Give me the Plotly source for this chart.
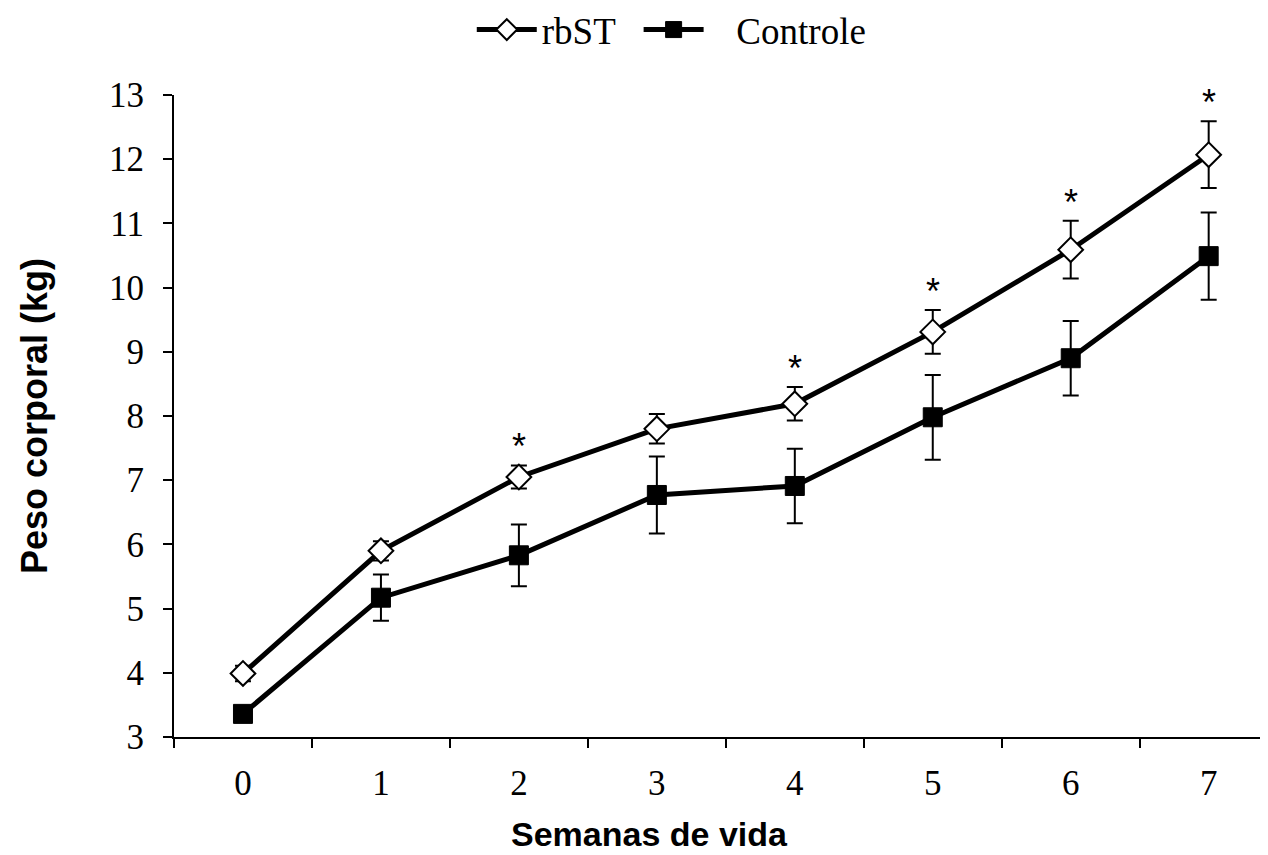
import plotly.graph_objects as go

semanas = [0, 1, 2, 3, 4, 5, 6, 7]
rbst = [3.99, 5.90, 7.05, 7.80, 8.19, 9.31, 10.59, 12.07]
rbst_err = [0.12, 0.15, 0.18, 0.23, 0.26, 0.34, 0.45, 0.52]
controle = [3.36, 5.17, 5.83, 6.77, 6.91, 7.98, 8.90, 10.49]
controle_err = [0.06, 0.36, 0.48, 0.60, 0.58, 0.66, 0.58, 0.68]
signif = [False, False, True, False, True, True, True, True]

fig = go.Figure()
fig.add_trace(go.Scatter(
    x=semanas, y=rbst, name="rbST  ", mode="lines+markers",
    line=dict(color="black", width=5),
    marker=dict(symbol="diamond", size=19, color="white", line=dict(color="black", width=2)),
    error_y=dict(type="data", array=rbst_err, color="black", thickness=2, width=8),
))
fig.add_trace(go.Scatter(
    x=semanas, y=controle, name="   Controle", mode="lines+markers",
    line=dict(color="black", width=5),
    marker=dict(symbol="square", size=19, color="black", line=dict(color="black", width=1)),
    error_y=dict(type="data", array=controle_err, color="black", thickness=2, width=8),
))

for x, y, e, s in zip(semanas, rbst, rbst_err, signif):
    if s:
        fig.add_annotation(x=x, y=y + e, text="*", showarrow=False, yanchor="bottom", yshift=-4,
                           font=dict(family="Liberation Sans, Arial", size=36, color="black"))

fig.add_annotation(x=0.435, y=-0.151, xref="paper", yref="paper", text="<b>Semanas de vida</b>",
                   showarrow=False, xanchor="center", yanchor="middle",
                   font=dict(family="Liberation Sans, Arial", size=34, color="black"))

fig.update_layout(
    width=1260, height=847,
    paper_bgcolor="white", plot_bgcolor="white",
    margin=dict(l=166, r=0, t=87, b=118, autoexpand=False),
    showlegend=True,
    legend=dict(orientation="h", x=0.455, y=0.974, xanchor="center", yanchor="middle", yref="container",
                font=dict(family="Liberation Serif, Times New Roman", size=37, color="black"),
                itemwidth=60, bgcolor="rgba(0,0,0,0)"),
    xaxis=dict(
        range=[-0.5, 7.43], tickvals=semanas, ticktext=[str(s) for s in semanas],
        ticks="outside", ticklen=0, showgrid=False, zeroline=False,
        showline=True, linecolor="black", linewidth=2, ticklabelstandoff=14,
        tickfont=dict(family="Liberation Serif, Times New Roman", size=35, color="black"),
        minor=dict(tick0=0.5, dtick=1, ticks="outside", ticklen=9, tickwidth=2, tickcolor="black"),
    ),
    yaxis=dict(
        range=[3, 13], tickvals=list(range(3, 14)), ticks="outside", ticklen=9, tickwidth=2,
        tickcolor="black", showgrid=False, zeroline=False, ticklabelstandoff=12,
        showline=True, linecolor="black", linewidth=2,
        tickfont=dict(family="Liberation Serif, Times New Roman", size=35, color="black"),
        title=dict(text="<b>Peso corporal (kg)</b>", standoff=50,
                   font=dict(family="Liberation Sans, Arial", size=36, color="black")),
    ),
)

fig.write_html("out.html")
